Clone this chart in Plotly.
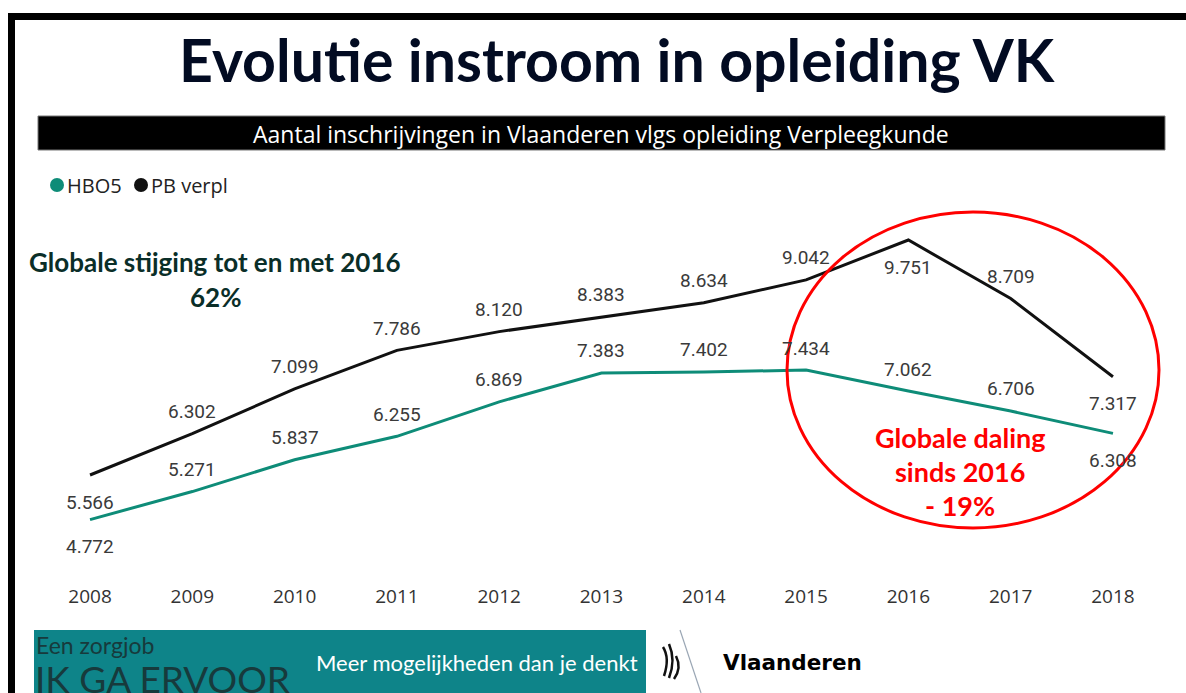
import plotly.graph_objects as go

# ---- data ----
years = [2008, 2009, 2010, 2011, 2012, 2013, 2014, 2015, 2016, 2017, 2018]
hbo5 = [4772, 5271, 5837, 6255, 6869, 7383, 7402, 7434, 7062, 6706, 6308]
pb_verpl = [5566, 6302, 7099, 7786, 8120, 8383, 8634, 9042, 9751, 8709, 7317]
hbo5_label_pos = ["below", "above", "above", "above", "above", "above", "above", "above", "above", "above", "below"]
pb_label_pos = ["below", "above", "above", "above", "above", "above", "above", "above", "below", "above", "below"]
series_names = ["HBO5", "PB verpl"]

W, H = 1186, 693
TEAL = "#0e8c78"
BLACK = "#111111"


def px(x):
    return x / W


def py(y):
    return 1 - y / H


def fmt(v):
    return f"{v:,}".replace(",", ".")


def note(x, y, text, font, xanchor="center"):
    return dict(x=px(x), y=py(y), xref="paper", yref="paper", showarrow=False,
                xanchor=xanchor, yanchor="middle", text=text, font=font)


fig = go.Figure()
fig.add_trace(go.Scatter(x=years, y=hbo5, mode="lines", name=series_names[0],
                         line=dict(color=TEAL, width=3), showlegend=False))
fig.add_trace(go.Scatter(x=years, y=pb_verpl, mode="lines", name=series_names[1],
                         line=dict(color=BLACK, width=3), showlegend=False))

annotations = []
label_font = dict(family="Roboto", size=19, color="#3a3a3a")
for series, pos in ((hbo5, hbo5_label_pos), (pb_verpl, pb_label_pos)):
    for x, v, p in zip(years, series, pos):
        annotations.append(dict(x=x, y=v, xref="x", yref="y", text=fmt(v), showarrow=False,
                                xanchor="center", yanchor="middle",
                                yshift=22 if p == "above" else -27, font=label_font))

# Title and subtitle
annotations.append(note(617, 60, "<b>Evolutie instroom in opleiding VK</b>",
                        dict(family="Lato", size=59, color="#020b22")))
annotations.append(note(601, 134, "Aantal inschrijvingen in Vlaanderen vlgs opleiding Verpleegkunde",
                        dict(family="Open Sans", size=23, color="#ffffff")))

# Legend (drawn)
leg_font = dict(family="Open Sans", size=20, color="#222222")
annotations.append(note(65, 185, series_names[0], leg_font, "left"))
annotations.append(note(149, 185, series_names[1], leg_font, "left"))

# Commentary
green_font = dict(family="Lato", size=26, color="#0a2e28")
annotations.append(note(215, 262, "<b>Globale stijging tot en met 2016</b>", green_font))
annotations.append(note(215, 297, "<b>62%</b>", green_font))
red_font = dict(family="Lato", size=27, color="#ff0000")
for t, yy in (("Globale daling", 437), ("sinds 2016", 471), ("- 19%", 505)):
    annotations.append(note(960, yy, f"<b>{t}</b>", red_font))

# Bottom banner
annotations.append(note(34, 645, "Een zorgjob", dict(family="Lato", size=23, color="#173a3c"), "left"))
annotations.append(note(33, 678, "IK GA ERVOOR", dict(family="Lato", size=37, color="#173a3c"), "left"))
annotations.append(note(314, 662, "Meer mogelijkheden dan je denkt",
                        dict(family="Lato", size=22, color="#ffffff"), "left"))
annotations.append(note(721, 662, "<b>Vlaanderen</b>",
                        dict(family="DejaVu Sans", size=21.5, color="#000000"), "left"))

shapes = [
    # frame
    dict(type="rect", xref="paper", yref="paper", x0=px(8), x1=px(15), y0=py(693), y1=py(13),
         fillcolor="#000000", line=dict(width=0)),
    dict(type="rect", xref="paper", yref="paper", x0=px(8), x1=px(1186), y0=py(20), y1=py(13),
         fillcolor="#000000", line=dict(width=0)),
    # subtitle bar
    dict(type="rect", xref="paper", yref="paper", x0=px(38), x1=px(1165), y0=py(150), y1=py(116),
         fillcolor="#000000", line=dict(width=1, color="#777777")),
    # legend dots
    dict(type="circle", xref="paper", yref="paper", x0=px(50), x1=px(64), y0=py(192), y1=py(178),
         fillcolor=TEAL, line=dict(width=0)),
    dict(type="circle", xref="paper", yref="paper", x0=px(134), x1=px(148), y0=py(192), y1=py(178),
         fillcolor=BLACK, line=dict(width=0)),
    # red ellipse
    dict(type="circle", xref="paper", yref="paper", x0=px(787), x1=px(1159), y0=py(528), y1=py(212),
         line=dict(color="#ff0000", width=3)),
    # bottom banner
    dict(type="rect", xref="paper", yref="paper", x0=px(34), x1=px(646), y0=py(693), y1=py(630),
         fillcolor="#0e8489", line=dict(width=0)),
    dict(type="line", xref="paper", yref="paper", x0=px(680), x1=px(701), y0=py(630), y1=py(693),
         line=dict(color="#9aa6b4", width=1.2)),
    # simplified lion emblem strokes
    dict(type="path", xref="paper", yref="paper",
         path=f"M {px(663)},{py(647)} Q {px(670)},{py(658)} {px(664)},{py(676)}",
         line=dict(color="#111111", width=2.5)),
    dict(type="path", xref="paper", yref="paper",
         path=f"M {px(669)},{py(644)} Q {px(676)},{py(660)} {px(669)},{py(678)}",
         line=dict(color="#111111", width=2.5)),
    dict(type="path", xref="paper", yref="paper",
         path=f"M {px(676)},{py(656)} Q {px(682)},{py(668)} {px(674)},{py(679)}",
         line=dict(color="#111111", width=2.5)),
]

fig.update_layout(
    width=W, height=H,
    margin=dict(l=0, r=0, t=0, b=0),
    paper_bgcolor="#ffffff", plot_bgcolor="rgba(0,0,0,0)",
    showlegend=False,
    xaxis=dict(domain=[0, 1], range=[2007.12, 2018.714], tickvals=years,
               ticktext=[str(y) for y in years], showgrid=False, zeroline=False,
               showline=False, ticks="", ticklabelstandoff=3,
               tickfont=dict(family="Open Sans", size=19, color="#333333"),
               fixedrange=True),
    yaxis=dict(domain=[py(580), py(200)], range=[3696, 10464], visible=False, fixedrange=True),
    annotations=annotations,
    shapes=shapes,
)

fig.write_html("out.html")
